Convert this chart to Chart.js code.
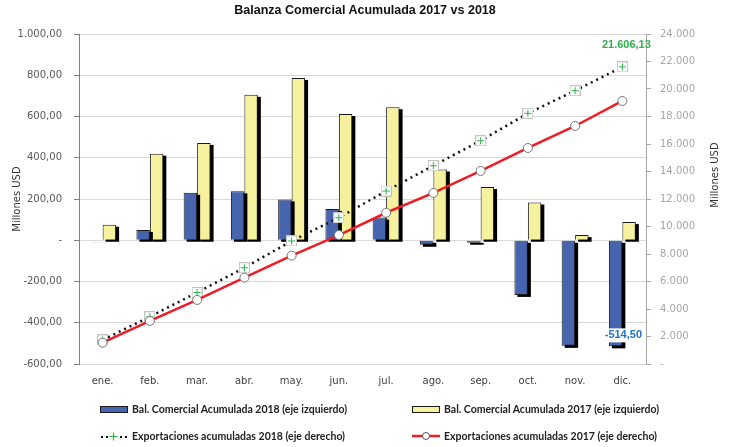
<!DOCTYPE html>
<html>
<head>
<meta charset="utf-8">
<script src="https://cdn.jsdelivr.net/npm/chart.js@4.4.1/dist/chart.umd.min.js"></script>
<style>
  body { margin:0; background:#fff; }
  #wrap { position:relative; width:730px; height:447px; }
  #title { position:absolute; left:0; width:730px; top:3px; text-align:center; font:bold 12.5px "Liberation Sans", Arial, sans-serif; color:#111; }
  .leg { position:absolute; display:flex; align-items:center; font:bold 10.5px "Lato", sans-serif; color:#222; white-space:nowrap; }
  .leg canvas { margin-right:2px; }
</style>
</head>
<body>
<div id="wrap">
  <canvas id="chart"></canvas>
  <div id="title">Balanza Comercial Acumulada 2017 vs 2018</div>
  <div class="leg" style="left:100px;top:403px"><canvas id="lg0" width="30" height="12"></canvas>Bal. Comercial Acumulada 2018 (eje izquierdo)</div>
  <div class="leg" style="left:412px;top:403px"><canvas id="lg1" width="30" height="12"></canvas>Bal. Comercial Acumulada 2017 (eje izquierdo)</div>
  <div class="leg" style="left:100px;top:430px"><canvas id="lg2" width="30" height="12"></canvas>Exportaciones acumuladas 2018 (eje derecho)</div>
  <div class="leg" style="left:412px;top:430px"><canvas id="lg3" width="30" height="12"></canvas>Exportaciones acumuladas 2017 (eje derecho)</div>
</div>
<script>
const months = ['ene.', 'feb.', 'mar.', 'abr.', 'may.', 'jun.', 'jul.', 'ago.', 'sep.', 'oct.', 'nov.', 'dic.'];
const bal2018 = [-2, 50, 230, 237, 198, 152, 110, -22, -12, -265, -512, -514.5];
const bal2017 = [75, 420, 472, 705, 787, 612, 645, 343, 258, 183, 25, 88];
const exp2018 = [1750, 3440, 5200, 7000, 8950, 10640, 12580, 14420, 16240, 18230, 19880, 21606.13];
const exp2017 = [1550, 3130, 4660, 6280, 7880, 9380, 11000, 12440, 14040, 15710, 17310, 19130];

const BLUE = '#4765ae', YELLOW = '#f6f19e', RED = '#ee1c25', GREEN = '#2cb34a';

// spanish number format: 1.000,00
function fmt(v, d) {
    const s = Math.abs(v).toFixed(d).split('.');
    const int = s[0].replace(/\B(?=(\d{3})+(?!\d))/g, '.');
    return (v < 0 ? '-' : '') + int + (d ? ',' + s[1] : '');
}

// marker for 2018 exports: little square with green cross
function crossMarker() {
    const c = document.createElement('canvas');
    c.width = 11; c.height = 11;
    const x = c.getContext('2d');
    x.fillStyle = '#fff'; x.fillRect(0.5, 0.5, 10, 10);
    x.strokeStyle = '#c4c4c4'; x.lineWidth = 1; x.strokeRect(0.5, 0.5, 10, 10);
    x.strokeStyle = GREEN;
    x.beginPath(); x.moveTo(5.5, 2); x.lineTo(5.5, 9); x.moveTo(2, 5.5); x.lineTo(9, 5.5); x.stroke();
    return c;
}

// black drop shadow behind each bar (offset right/down)
const barShadow = {
    id: 'barShadow',
    beforeDatasetDraw(chart, args) {
        if (args.meta.type !== 'bar') return;
        const c = chart.ctx;
        c.save();
        c.fillStyle = '#000';
        args.meta.data.forEach(el => {
            const p = el.getProps(['x', 'y', 'base', 'width'], true);
            const top = Math.min(p.y, p.base), bot = Math.max(p.y, p.base);
            c.fillRect(p.x - p.width / 2 + 3, top + 2, p.width, bot - top);
        });
        c.restore();
    }
};

const valueLabels = {
    id: 'valueLabels',
    afterDatasetsDraw(chart) {
        const ctx = chart.ctx;
        const last = months.length - 1;
        ctx.save();
        ctx.font = 'bold 11px "Liberation Sans", Arial, sans-serif';
        ctx.textAlign = 'center'; ctx.textBaseline = 'middle';
        // -514,50 on dic bar
        const b = chart.getDatasetMeta(0).data[last];
        const t1 = fmt(bal2018[last], 2);
        const bx = chart.scales.x.getPixelForValue(last) + 1, by = b.y - 11;
        const w1 = ctx.measureText(t1).width;
        ctx.fillStyle = '#fff'; ctx.fillRect(bx - w1 / 2 - 2, by - 7, w1 + 4, 14);
        ctx.fillStyle = '#1f73c4'; ctx.fillText(t1, bx, by);
        // 21.606,13 above last export point
        const p = chart.getDatasetMeta(2).data[last];
        ctx.fillStyle = GREEN; ctx.fillText(fmt(exp2018[last], 2), p.x + 4, p.y - 22);
        ctx.restore();
    },
    // right axis title reads bottom-to-top like the left one
    afterDraw(chart) {
        const ctx = chart.ctx;
        ctx.save();
        ctx.translate(715, 175);
        ctx.rotate(-Math.PI / 2);
        ctx.font = '10px "DejaVu Sans", sans-serif';
        ctx.fillStyle = '#333';
        ctx.textAlign = 'center'; ctx.textBaseline = 'middle';
        ctx.fillText('Millones USD', 0, 0);
        ctx.restore();
    }
};

new Chart(document.getElementById('chart'), {
    type: 'bar',
    data: {
        labels: months,
        datasets: [
            { type: 'bar', label: 'Bal. Comercial Acumulada 2018 (eje izquierdo)', data: bal2018, yAxisID: 'y',
              backgroundColor: BLUE, borderColor: '#1a1a1a', borderWidth: 1, order: 2,
              barPercentage: 1, categoryPercentage: 0.57 },
            { type: 'bar', label: 'Bal. Comercial Acumulada 2017 (eje izquierdo)', data: bal2017, yAxisID: 'y',
              backgroundColor: YELLOW, borderColor: '#1a1a1a', borderWidth: 1, order: 2,
              barPercentage: 1, categoryPercentage: 0.57 },
            { type: 'line', label: 'Exportaciones acumuladas 2018 (eje derecho)', data: exp2018, yAxisID: 'y1',
              borderColor: '#111', borderWidth: 2.5, borderDash: [2, 4], pointStyle: crossMarker(),
              pointRadius: 5, order: 1, tension: 0 },
            { type: 'line', label: 'Exportaciones acumuladas 2017 (eje derecho)', data: exp2017, yAxisID: 'y1',
              borderColor: RED, borderWidth: 2.5, pointStyle: 'circle', pointRadius: 4.5,
              pointBackgroundColor: '#fff', pointBorderColor: '#777', pointBorderWidth: 1, order: 0, tension: 0 }
        ]
    },
    options: {
        responsive: true, maintainAspectRatio: false, animation: false,
        layout: { padding: { top: 34, bottom: 53, left: 0, right: 0 } },
        plugins: { legend: { display: false }, tooltip: { enabled: false } },
        scales: {
            x: {
                grid: { display: false }, border: { display: false },
                ticks: { color: '#404040', padding: 3, font: { family: 'DejaVu Sans', size: 10 } },
                afterFit(s) { s.height = 30; }
            },
            y: {
                position: 'left', min: -600, max: 1000,
                ticks: { stepSize: 200, color: '#595959', padding: 12, font: { family: 'DejaVu Sans', size: 10 },
                         callback: v => v === 0 ? '-' : fmt(v, 2) },
                grid: { color: '#d9d9d9', tickColor: '#808080', tickLength: 5 },
                border: { color: '#808080' },
                title: { display: true, text: 'Millones USD', color: '#333', padding: { top: 11 },
                         font: { family: 'DejaVu Sans', size: 10 } },
                afterFit(s) { s.width = 79; }
            },
            y1: {
                position: 'right', min: 0, max: 24000,
                ticks: { stepSize: 2000, color: '#a6a6a6', padding: 9, font: { family: 'DejaVu Sans', size: 10 },
                         callback: v => v === 0 ? '-' : fmt(v, 0) },
                grid: { drawOnChartArea: false, tickColor: '#a6a6a6', tickLength: 5 },
                border: { color: '#a6a6a6' },
                afterFit(s) { s.width = 84; }
            }
        }
    },
    plugins: [barShadow, valueLabels]
});

// legend symbols
(function () {
    let c = document.getElementById('lg0').getContext('2d');
    c.fillStyle = '#1a1a1a'; c.fillRect(0, 3, 28, 7); c.fillStyle = BLUE; c.fillRect(1, 4, 26, 5);
    c = document.getElementById('lg1').getContext('2d');
    c.fillStyle = '#1a1a1a'; c.fillRect(0, 3, 28, 7); c.fillStyle = YELLOW; c.fillRect(1, 4, 26, 5);
    c = document.getElementById('lg2').getContext('2d');
    c.fillStyle = '#111';
    [1, 6, 20, 25].forEach(x => c.fillRect(x, 6, 2, 2));
    c.strokeStyle = GREEN; c.lineWidth = 1.2;
    c.beginPath(); c.moveTo(13.5, 2.5); c.lineTo(13.5, 10.5); c.moveTo(9.5, 6.5); c.lineTo(17.5, 6.5); c.stroke();
    c = document.getElementById('lg3').getContext('2d');
    c.strokeStyle = RED; c.lineWidth = 2.5;
    c.beginPath(); c.moveTo(0, 6); c.lineTo(28, 6); c.stroke();
    c.fillStyle = '#fff'; c.strokeStyle = '#555'; c.lineWidth = 1;
    c.beginPath(); c.arc(14, 6, 3.5, 0, Math.PI * 2); c.fill(); c.stroke();
})();
</script>
</body>
</html>
